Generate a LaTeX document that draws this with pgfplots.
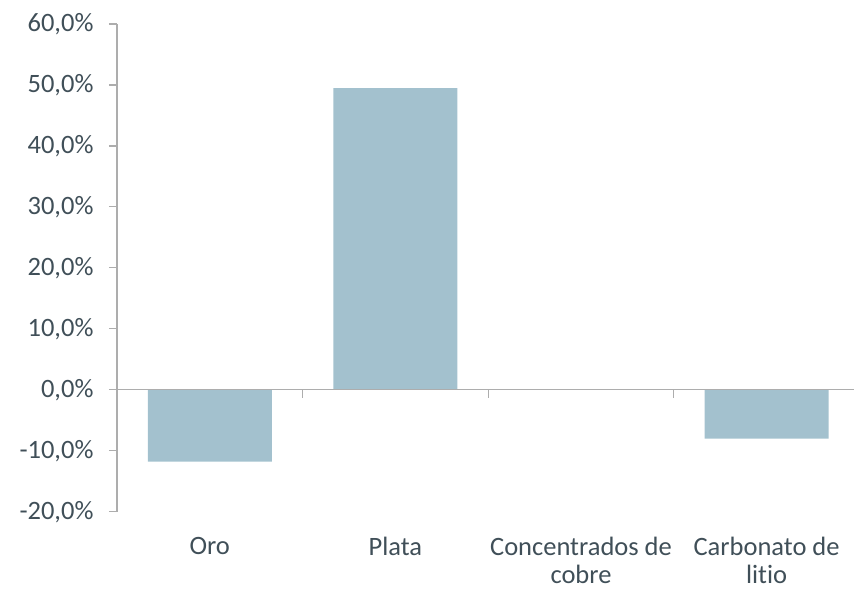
\documentclass[border=0pt]{standalone}
\usepackage{pgfplots}
\pgfplotsset{compat=1.18}
\usepackage{fontspec}
\setmainfont{Carlito}[Ligatures=NoCommon]
\definecolor{txt}{HTML}{404F58}
\definecolor{axg}{HTML}{ADADAD}
\definecolor{barc}{HTML}{A3C1CE}
\begin{document}
\begin{tikzpicture}
\useasboundingbox (0pt,0pt) rectangle (854pt,589pt);
\begin{axis}[
  at={(117pt,77.3pt)}, anchor=south west,
  scale only axis, width=737pt, height=487.7pt,
  xmin=-0.5, xmax=3.471, ymin=-20, ymax=60,
  axis x line*=bottom, axis y line*=left,
  x axis line style={draw=none},
  y axis line style={axg, line width=1.2pt},
  xtick={0,1,2,3},
  xticklabels={Oro,Plata,{Concentrados de\\cobre},{Carbonato de\\litio}},
  x tick label style={align=center, inner sep=0pt, yshift=-17.5pt},
  y tick label style={xshift=-12pt},
  xtick style={draw=none},
  ytick={-20,-10,0,10,20,30,40,50,60},
  yticklabels={{-20,0\%},{-10,0\%},{0,0\%},{10,0\%},{20,0\%},{30,0\%},{40,0\%},{50,0\%},{60,0\%}},
  tick align=outside, major tick length=8pt,
  ytick style={axg, line width=1.2pt},
  tick label style={text=txt, font=\fontsize{26.5}{28}\selectfont},
  ybar, bar width=124pt,
]
\addplot[fill=barc, draw=none] coordinates {(0,-11.8) (1,49.5) (2,0) (3,-8.0)};
\draw[axg, line width=1.2pt] (axis cs:-0.5,0) -- (axis cs:3.471,0);
\draw[axg, line width=1.2pt] (axis cs:0.5,0) -- ++(0pt,-8pt);
\draw[axg, line width=1.2pt] (axis cs:1.5,0) -- ++(0pt,-8pt);
\draw[axg, line width=1.2pt] (axis cs:2.5,0) -- ++(0pt,-8pt);
\end{axis}
\end{tikzpicture}
\end{document}
